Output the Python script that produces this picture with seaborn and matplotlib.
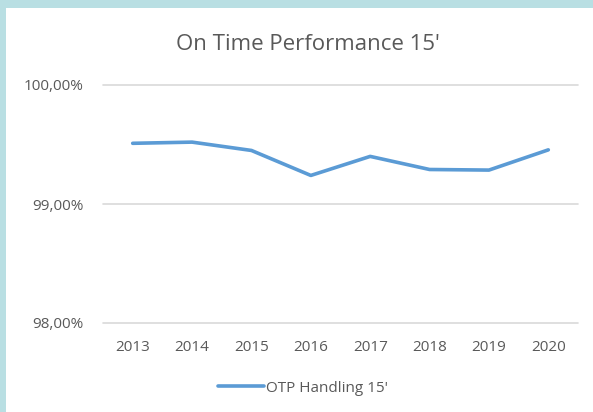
import numpy as np
import pandas as pd
import matplotlib
matplotlib.use("Agg")
import matplotlib.pyplot as plt
from matplotlib.patches import Rectangle
from matplotlib.ticker import FuncFormatter
import seaborn as sns

annees = ["2013", "2014", "2015", "2016", "2017", "2018", "2019", "2020"]
otp_15 = [99.51, 99.52, 99.45, 99.24, 99.40, 99.29, 99.285, 99.455]
serie = "OTP Handling 15'"
titre = "On Time Performance 15'"

sns.set_style("white")
plt.rcParams["font.family"] = ["Open Sans", "DejaVu Sans"]

df = pd.DataFrame({"annee": annees, "valeur": otp_15})
gris_texte = "#595959"

fig = plt.figure(figsize=(5.93, 4.12), dpi=100)
fig.patch.set_facecolor("#b9dfe3")
# fond blanc du graphique, sous les axes
fig.patches.append(Rectangle((6 / 593, 0), 1, 1 - 8 / 412,
                             transform=fig.transFigure,
                             facecolor="white", edgecolor="none", zorder=-10))

ax = fig.add_axes([103 / 593, 1 - 323 / 412, 475 / 593, 238 / 412])
ax.set_facecolor("none")
ax.set_zorder(5)

sns.lineplot(data=df, x="annee", y="valeur", ax=ax, color="#5b9bd5",
             linewidth=2.6, label=serie, solid_capstyle="round", sort=False)

ax.set_xlim(-0.5, len(annees) - 0.5)
ax.set_ylim(98, 100)
ax.set_yticks([98, 99, 100])
ax.yaxis.set_major_formatter(FuncFormatter(lambda v, p: f"{v:.2f}%".replace(".", ",")))
ax.grid(axis="y", color="#d9d9d9", linewidth=1.2)
ax.grid(axis="x", visible=False)
for gl in ax.get_ygridlines():
    gl.set_clip_on(False)
for s in ax.spines.values():
    s.set_visible(False)
ax.tick_params(axis="both", length=0, labelsize=11, colors=gris_texte)
ax.tick_params(axis="x", pad=12)
ax.tick_params(axis="y", pad=14)
ax.set_xlabel("")
ax.set_ylabel("")

fig.text(308 / 593, 1 - 44 / 412, titre, ha="center", va="center",
         fontsize=16, color=gris_texte)

leg = ax.legend(loc="center", bbox_to_anchor=(303 / 593, 1 - 388 / 412),
                bbox_transform=fig.transFigure, frameon=False, fontsize=11,
                handlelength=3.0, handletextpad=0.1)
for t in leg.get_texts():
    t.set_color(gris_texte)

fig.savefig("out.png", dpi=100, facecolor=fig.get_facecolor())
